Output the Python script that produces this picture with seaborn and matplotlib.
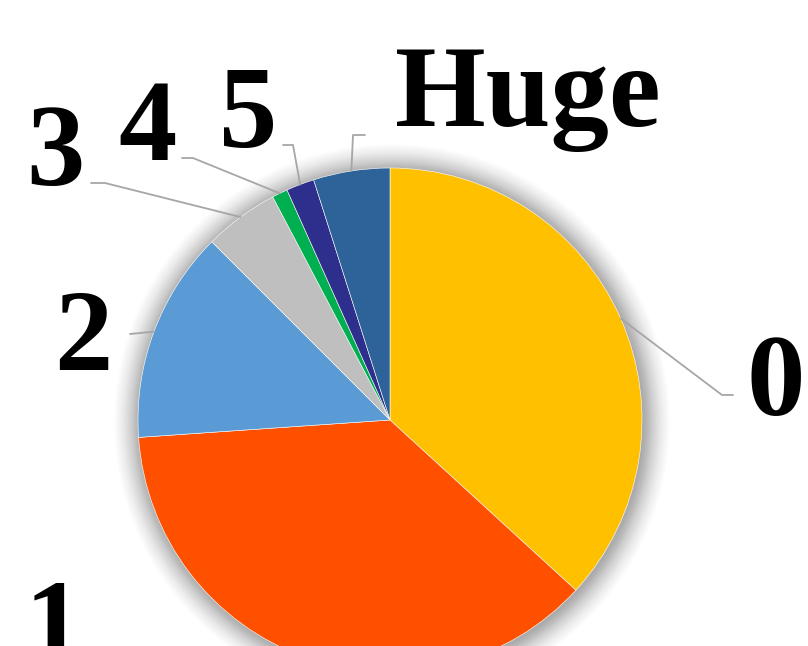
import numpy as np
import seaborn as sns
import matplotlib.pyplot as plt
from matplotlib.patches import Circle

# data
categories = ['0', '1', '2', '3', '4', '5', 'Huge']
shares = [36.8, 37.1, 13.6, 4.8, 1.0, 1.8, 4.9]
colors = ['#FFC000', '#FF5000', '#5B9BD5', '#BFBFBF', '#00B050', '#2E2E8C', '#2E6399']

# label layout in pixel coords (x, baseline y from top), leader elbow/end
label_pos = {'0': (776, 415), '1': (54, 660), '2': (83, 370), '3': (55, 185),
             '4': (147, 160), '5': (248, 147), 'Huge': (528, 126)}
leader_end = {'0': [(722, 395), (733, 395)], '2': [(130, 334)],
              '3': [(105, 183), (91, 183)], '4': [(193, 158), (182, 158)],
              '5': [(293, 145), (283, 145)], 'Huge': [(353, 135), (365, 135)]}

sns.set_theme(style='white')
plt.rcParams['font.family'] = ['Liberation Serif', 'DejaVu Serif']

W, H = 808, 646
fig = plt.figure(figsize=(W / 100, H / 100), dpi=100)
ax = fig.add_axes([0, 0, 1, 1])

cx, cy, r = 390, H - 420, 252

# soft shadow, fading outwards
for i in range(30):
    ax.add_patch(Circle((cx + 2, cy - 2), r + 26 - i * 0.9, color='black',
                        alpha=0.006 + 0.0004 * i, lw=0, zorder=1))

wedges, _ = ax.pie(shares, colors=colors, startangle=90, counterclock=False,
                   center=(cx, cy), radius=r, frame=True,
                   wedgeprops=dict(edgecolor='white', linewidth=0.4, zorder=2))
ax.set_xlim(0, W)
ax.set_ylim(0, H)
ax.set_aspect('equal')
ax.axis('off')

for w, cat in zip(wedges, categories):
    mid = np.deg2rad((w.theta1 + w.theta2) / 2)
    px, py = cx + r * np.cos(mid), cy + r * np.sin(mid)
    if cat in leader_end:
        pts = [(px, py)] + [(x, H - y) for x, y in leader_end[cat]]
        xs, ys = zip(*pts)
        ax.plot(xs, ys, color='#A6A6A6', lw=1.3, zorder=3)
    lx, ly = label_pos[cat]
    ax.text(lx, H - ly, cat, ha='center', va='baseline', fontsize=84,
            fontweight='bold', color='black', zorder=4)

fig.savefig('out.png', dpi=100)
